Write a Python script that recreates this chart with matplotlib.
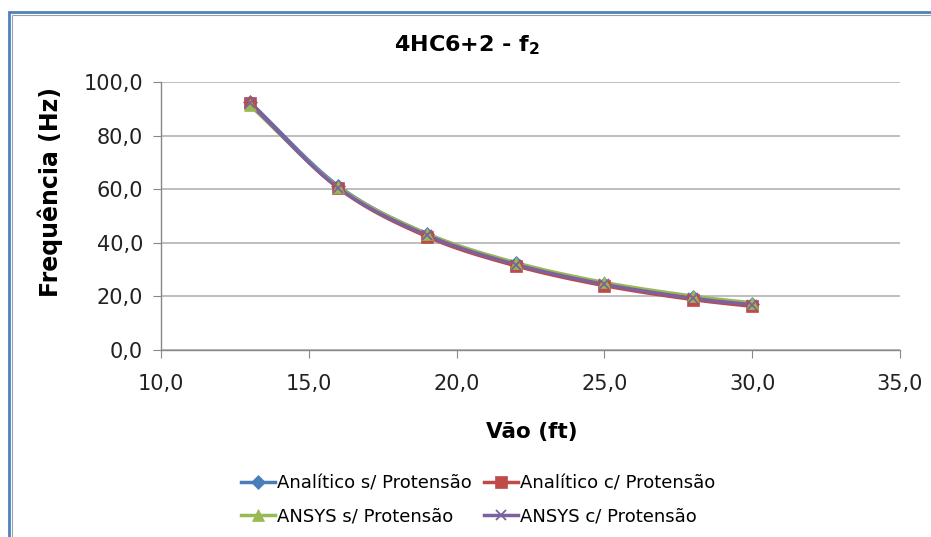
import numpy as np
import matplotlib
matplotlib.use("Agg")
import matplotlib.pyplot as plt
from matplotlib.patches import Rectangle

plt.rcParams['font.family'] = ['DejaVu Sans']

# Spans (ft) and second natural frequency (Hz)
vao = [13, 16, 19, 22, 25, 28, 30]
analitico_sem = [92.6, 61.2, 43.3, 32.3, 24.8, 19.6, 17.2]
analitico_com = [92.2, 60.4, 42.3, 31.4, 24.0, 18.8, 16.3]
ansys_sem = [91.4, 60.9, 43.4, 32.6, 25.2, 20.1, 17.6]
ansys_com = [92.0, 60.5, 42.8, 31.9, 24.5, 19.3, 16.9]

series = [
    ("Analítico s/ Protensão", analitico_sem, "#4a7ebb", "D", 7),
    ("Analítico c/ Protensão", analitico_com, "#be4b48", "s", 9),
    ("ANSYS s/ Protensão", ansys_sem, "#98b954", "^", 9),
    ("ANSYS c/ Protensão", ansys_com, "#7d60a0", "x", 7.5),
]

xticks = [10, 15, 20, 25, 30, 35]
yticks = [0, 20, 40, 60, 80, 100]


def smooth(x, y, n=30):
    """Catmull-Rom curve through the given points."""
    x = np.asarray(x, float)
    y = np.asarray(y, float)
    px = np.concatenate([[2 * x[0] - x[1]], x, [2 * x[-1] - x[-2]]])
    py = np.concatenate([[2 * y[0] - y[1]], y, [2 * y[-1] - y[-2]]])
    xs, ys = [], []
    t = np.linspace(0, 1, n)
    for i in range(1, len(px) - 2):
        for arr, out in ((px, xs), (py, ys)):
            p0, p1, p2, p3 = arr[i - 1], arr[i], arr[i + 1], arr[i + 2]
            out.extend(0.5 * ((2 * p1) + (-p0 + p2) * t
                              + (2 * p0 - 5 * p1 + 4 * p2 - p3) * t ** 2
                              + (-p0 + 3 * p1 - 3 * p2 + p3) * t ** 3))
    return np.array(xs), np.array(ys)


fig = plt.figure(figsize=(9.31, 5.37), dpi=100)
ax = fig.add_axes([161 / 931, 1 - 350 / 537, (900 - 161) / 931, (350 - 82) / 537])

handles = []
for label, vals, color, marker, ms in series:
    mew = 1.3 if marker == 'x' else 0.5
    sx, sy = smooth(vao, vals)
    ax.plot(sx, sy, color=color, lw=2.5, solid_capstyle='round', zorder=3)
    ax.plot(vao, vals, linestyle='none', marker=marker, color=color,
            markersize=ms, markeredgewidth=mew, zorder=4)
    h, = ax.plot([], [], color=color, lw=2.5, marker=marker, markersize=ms,
                 markeredgewidth=mew)
    handles.append(h)

ax.set_xlim(10, 35)
ax.set_ylim(0, 100)
ax.set_xticks(xticks)
ax.set_yticks(yticks)
ax.set_xticklabels([f"{v:.1f}".replace('.', ',') for v in xticks], fontsize=15)
ax.set_yticklabels([f"{v:.1f}".replace('.', ',') for v in yticks], fontsize=15)
ax.yaxis.grid(True, color='#b3b3b3', lw=1.2)
ax.set_axisbelow(True)
for s in ('top', 'right'):
    ax.spines[s].set_visible(False)
for s in ('left', 'bottom'):
    ax.spines[s].set_color('#888888')
    ax.spines[s].set_linewidth(1.0)
ax.tick_params(axis='both', direction='out', length=6, color='#888888',
               colors='#222222')
ax.tick_params(axis='x', pad=11)
ax.tick_params(axis='y', pad=7)

fig.text(532 / 931, 1 - 432 / 537, "Vão (ft)", fontsize=15.5,
         fontweight='bold', ha='center', va='center')
fig.text(50 / 931, 1 - 192 / 537, "Frequência (Hz)", fontsize=17,
         fontweight='bold', ha='center', va='center', rotation=90)
fig.text(467 / 931, 1 - 45 / 537, "4HC6+2 - f$_\\mathbf{2}$", fontsize=16,
         fontweight='bold', ha='center', va='center')

# row-wise legend order for a two-column layout
order = [0, 2, 1, 3]
fig.legend(handles=[handles[i] for i in order],
           labels=[series[i][0] for i in order], ncol=2,
           loc='center', bbox_to_anchor=(478 / 931, 1 - 500 / 537),
           frameon=False, fontsize=13, handlelength=1.9, handletextpad=0.1,
           columnspacing=0.7, labelspacing=0.8, borderpad=0)

# chart-area frame
fig.patches.append(Rectangle((9 / 931, -0.1), 1.2, 1 - 12 / 537 + 0.1,
                             transform=fig.transFigure, fill=False,
                             edgecolor='#4f81bd', lw=2.0, zorder=10))
fig.patches.append(Rectangle((11.5 / 931, -0.1), 1.2, 1 - 14.5 / 537 + 0.1,
                             transform=fig.transFigure, fill=False,
                             edgecolor='#a0a0a0', lw=0.8, zorder=10))

fig.savefig("out.png", dpi=100)
